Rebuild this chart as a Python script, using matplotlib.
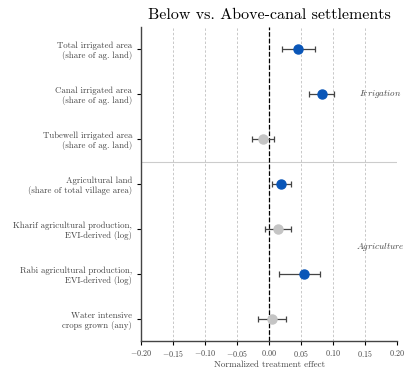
import numpy as np
import matplotlib
matplotlib.use("Agg")
import matplotlib.pyplot as plt

plt.rcParams["font.family"] = "cmr10"
plt.rcParams["mathtext.fontset"] = "cm"
plt.rcParams["axes.formatter.use_mathtext"] = True

# outcomes, point estimates and 95% CI bounds
labels = ["Total irrigated area\n(share of ag. land)",
          "Canal irrigated area\n(share of ag. land)",
          "Tubewell irrigated area\n(share of ag. land)",
          "Agricultural land\n(share of total village area)",
          "Kharif agricultural production,\nEVI-derived (log)",
          "Rabi agricultural production,\nEVI-derived (log)",
          "Water intensive\ncrops grown (any)"]
est = [0.045, 0.082, -0.010, 0.019, 0.014, 0.054, 0.004]
lo = [0.020, 0.062, -0.027, 0.004, -0.007, 0.015, -0.018]
hi = [0.071, 0.102, 0.007, 0.035, 0.035, 0.079, 0.027]
signif = [True, True, False, True, False, True, False]
xticks = [-0.20, -0.15, -0.10, -0.05, 0.00, 0.05, 0.10, 0.15, 0.20]

BLUE, GREY = "#0a56b8", "#c4c4c4"

fig = plt.figure(figsize=(4.04, 3.69), dpi=100)
ax = fig.add_axes([0.349, 0.075, 0.634, 0.852])

y = np.arange(len(labels))
for yi, e, l, h, s in zip(y, est, lo, hi, signif):
    ax.errorbar(e, yi, xerr=[[e - l], [h - e]], fmt="none", ecolor="#444444",
                elinewidth=0.9, capsize=2.5, capthick=0.9, zorder=2)
    ax.plot(e, yi, "o", ms=6.5, color=BLUE if s else GREY, zorder=3)

ax.axvline(0, color="black", ls="--", lw=0.9, zorder=1)
ax.axhline(2.5, color="#cccccc", lw=0.8, zorder=0)
ax.set_xlim(-0.2, 0.2)
ax.set_ylim(6.5, -0.5)
ax.set_xticks(xticks)
ax.set_xticklabels([f"${v:.2f}$" for v in xticks])
ax.xaxis.grid(True, ls=(0, (2.5, 2)), color="#c8c8c8", lw=0.7)
ax.set_axisbelow(True)
ax.set_yticks(y)
ax.set_yticklabels(labels, fontsize=6.3, color="#444444", linespacing=1.15)
ax.tick_params(axis="x", labelsize=5.8, labelcolor="#444444", length=3, width=0.8, pad=2)
ax.tick_params(axis="y", length=3, width=0.8)
for side in ["top", "right"]:
    ax.spines[side].set_visible(False)
for side in ["left", "bottom"]:
    ax.spines[side].set_color("#444444")
    ax.spines[side].set_linewidth(1.0)

ax.set_xlabel("Normalized treatment effect", fontsize=6.5, color="#444444", labelpad=1)
ax.set_title("Below vs. Above-canal settlements", fontsize=11.5, pad=6)

ax.text(0.206, 1, r"$\mathit{Irrigation}$", ha="right", va="center", fontsize=6.5,
        color="#444444", clip_on=False)
ax.text(0.211, 4.4, r"$\mathit{Agriculture}$", ha="right", va="center", fontsize=6.5,
        color="#444444", clip_on=False)

fig.savefig("out.png", dpi=100)
